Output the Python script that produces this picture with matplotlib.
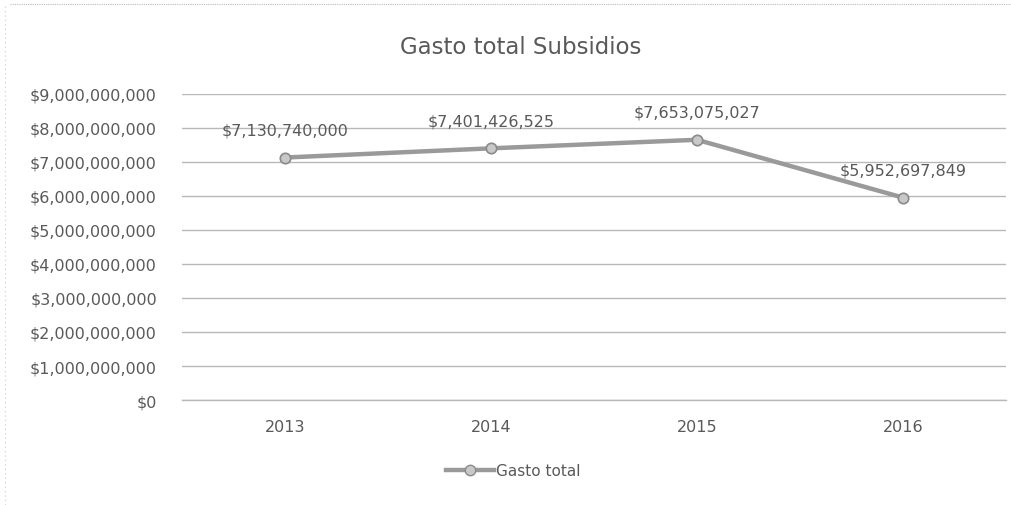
import matplotlib
matplotlib.use("Agg")
import matplotlib.pyplot as plt
from matplotlib.lines import Line2D
from matplotlib.ticker import FuncFormatter

years = ["2013", "2014", "2015", "2016"]
gasto_total = [7130740000, 7401426525, 7653075027, 5952697849]
y_ticks = [0, 1e9, 2e9, 3e9, 4e9, 5e9, 6e9, 7e9, 8e9, 9e9]

TEXT = "#595959"
LINE = "#9a9a9a"

plt.rcParams["font.family"] = ["DejaVu Sans"]

fig = plt.figure(figsize=(10.11, 5.06), dpi=100)
ax = fig.add_axes([0.18, 0.2075, 0.815, 0.6048])

x = list(range(len(years)))
ax.plot(x, gasto_total, color=LINE, lw=3.2, marker="o", markersize=7.5,
        markerfacecolor="#c8c8c8", markeredgecolor="#8a8a8a", markeredgewidth=1.2,
        label="Gasto total", zorder=3)

# data labels above each point
for xi, v in zip(x, gasto_total):
    ax.annotate("${:,.0f}".format(v), (xi, v), xytext=(0, 20), textcoords="offset points",
                ha="center", va="center", fontsize=11.5, color=TEXT)

ax.set_xlim(-0.5, 3.5)
ax.set_ylim(0, 9e9)
ax.set_xticks(x)
ax.set_xticklabels(years)
ax.set_yticks(y_ticks)
ax.yaxis.set_major_formatter(FuncFormatter(lambda v, p: "${:,.0f}".format(v)))
ax.tick_params(axis="both", length=0, labelsize=11.5, labelcolor=TEXT)
ax.tick_params(axis="y", pad=18)
ax.tick_params(axis="x", pad=14)
ax.grid(axis="y", color="#b8b8b8", lw=1.0)
ax.axhline(0, color="#b8b8b8", lw=1.0, clip_on=False, zorder=1)
ax.set_axisbelow(True)
for s in ax.spines.values():
    s.set_visible(False)

fig.text(521 / 1011, 1 - 47 / 506, "Gasto total Subsidios", ha="center", va="center",
         fontsize=16.5, color=TEXT)

handle = Line2D([], [], color=LINE, lw=3.2, marker="o", markersize=7.5,
                markerfacecolor="#c8c8c8", markeredgecolor="#8a8a8a")
fig.legend([handle], ["Gasto total"], loc="center", bbox_to_anchor=(513 / 1011, 1 - 472 / 506),
           frameon=False, fontsize=11, labelcolor=TEXT, handlelength=3.2, handletextpad=0.1)

# faint dotted border of the scanned chart frame
fig.add_artist(Line2D([0.01, 1], [1 - 5 / 506] * 2, color="#bbbbbb", lw=0.8, ls=(0, (1, 1))))
fig.add_artist(Line2D([5 / 1011] * 2, [0, 1 - 5 / 506], color="#cccccc", lw=0.8, ls=(0, (1, 3))))

fig.savefig("out.png", dpi=100)
